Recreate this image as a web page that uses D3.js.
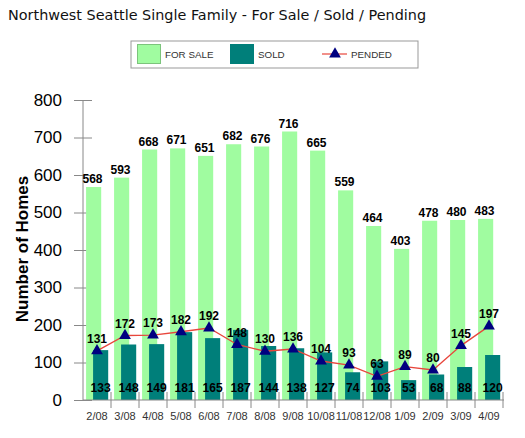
<!DOCTYPE html>
<html>
<head>
<meta charset="utf-8">
<script src="https://cdn.jsdelivr.net/npm/d3@7"></script>
<style>
  body { margin: 0; background: #fff; }
  svg { display: block; }
</style>
</head>
<body>
<svg id="chart" width="525" height="438"></svg>
<script>
// data
const months = ["2/08", "3/08", "4/08", "5/08", "6/08", "7/08", "8/08", "9/08",
  "10/08", "11/08", "12/08", "1/09", "2/09", "3/09", "4/09"];
const forSale = [568, 593, 668, 671, 651, 682, 676, 716, 665, 559, 464, 403, 478, 480, 483];
const sold = [133, 148, 149, 181, 165, 187, 144, 138, 127, 74, 103, 53, 68, 88, 120];
const pended = [131, 172, 173, 182, 192, 148, 130, 136, 104, 93, 63, 89, 80, 145, 197];
const yTicks = [0, 100, 200, 300, 400, 500, 600, 700, 800];

const rows = months.map((m, i) => ({ m, forSale: forSale[i], sold: sold[i], pended: pended[i] }));

const svg = d3.select("#chart");
const plotLeft = 83, plotRight = 503, plotTop = 100, plotBottom = 400;

const x = d3.scaleBand().domain(months).range([plotLeft, plotRight]).padding(0);
const y = d3.scaleLinear().domain([0, 800]).range([plotBottom, plotTop]);
const bw = x.bandwidth();

const green = "#a0fca0", teal = "#007f7a", navy = "#000080", red = "#e8463c";

// title
svg.append("text")
  .attr("x", 8).attr("y", 20)
  .style("font-family", "DejaVu Sans")
  .style("font-size", "14.4px")
  .attr("fill", "#111")
  .text("Northwest Seattle Single Family - For Sale / Sold / Pending");

// legend
const lg = svg.append("g");
lg.append("rect").attr("x", 131).attr("y", 41).attr("width", 287).attr("height", 27)
  .attr("fill", "#fff").attr("stroke", "#999");
lg.append("rect").attr("x", 137.5).attr("y", 44.5).attr("width", 23).attr("height", 19)
  .attr("fill", green).attr("stroke", "#7cc47c");
lg.append("rect").attr("x", 230).attr("y", 44).attr("width", 24).attr("height", 20)
  .attr("fill", teal);
lg.append("line").attr("x1", 322).attr("x2", 347).attr("y1", 54).attr("y2", 54)
  .attr("stroke", red).attr("stroke-width", 1.2);
lg.append("path").attr("d", d3.symbol(d3.symbolTriangle, 60)())
  .attr("transform", "translate(335,54)").attr("fill", navy);
[["FOR SALE", 165], ["SOLD", 258], ["PENDED", 351]].forEach(([t, lx]) => {
  lg.append("text").attr("x", lx).attr("y", 57.5)
    .style("font-family", "Liberation Sans, Arial")
    .style("font-size", "9.8px")
    .attr("fill", "#333")
    .text(t);
});

// y axis ticks (drawn under the bars)
const yAxis = svg.append("g").attr("transform", `translate(${plotLeft},0)`)
  .call(d3.axisLeft(y).tickValues(yTicks).tickSize(9).tickPadding(12));
yAxis.select(".domain").remove();
yAxis.selectAll(".tick line").attr("x1", 9).attr("stroke", "#888");
yAxis.selectAll(".tick text")
  .style("font-family", "Liberation Sans, Arial")
  .style("font-size", "17px")
  .attr("fill", "#000");

// for sale bars
svg.selectAll(".forsale")
  .data(rows).enter().append("rect")
  .attr("class", "forsale")
  .attr("x", d => x(d.m) + bw * 0.11)
  .attr("width", bw * 0.54)
  .attr("y", d => y(d.forSale))
  .attr("height", d => y(0) - y(d.forSale))
  .attr("fill", green);

// sold bars
svg.selectAll(".sold")
  .data(rows).enter().append("rect")
  .attr("class", "sold")
  .attr("x", d => x(d.m) + bw * 0.36)
  .attr("width", bw * 0.54)
  .attr("y", d => y(d.sold))
  .attr("height", d => y(0) - y(d.sold))
  .attr("fill", teal);

// axis lines
svg.append("line").attr("x1", plotLeft).attr("x2", plotLeft).attr("y1", plotTop).attr("y2", plotBottom)
  .attr("stroke", "#888");
svg.append("line").attr("x1", plotLeft).attr("x2", plotRight + 1).attr("y1", plotBottom).attr("y2", plotBottom)
  .attr("stroke", "#888");

// x axis: ticks at category boundaries, crossing the axis
svg.selectAll(".xtick")
  .data(months)
  .enter().append("line")
  .attr("x1", d => x(d) + bw)
  .attr("x2", d => x(d) + bw)
  .attr("y1", plotBottom - 8).attr("y2", plotBottom + 8)
  .attr("stroke", "#888");

svg.selectAll(".xlabel")
  .data(months).enter().append("text")
  .attr("x", d => x(d) + bw / 2)
  .attr("y", 420)
  .attr("text-anchor", "middle")
  .style("font-family", "Liberation Sans, Arial")
  .style("font-size", "11px")
  .attr("fill", "#333")
  .text(d => d);

// y axis title
svg.append("text")
  .attr("transform", "translate(28,249) rotate(-90)")
  .attr("text-anchor", "middle")
  .style("font-family", "Liberation Sans, Arial")
  .style("font-size", "17px")
  .style("font-weight", "bold")
  .attr("fill", "#000")
  .text("Number of Homes");

// pended line + triangles
const line = d3.line().x(d => x(d.m) + bw / 2).y(d => y(d.pended));
svg.append("path").datum(rows).attr("d", line)
  .attr("fill", "none").attr("stroke", red).attr("stroke-width", 1.3);
svg.selectAll(".tri")
  .data(rows).enter().append("path")
  .attr("d", d3.symbol(d3.symbolTriangle, 60)())
  .attr("transform", d => `translate(${x(d.m) + bw / 2},${y(d.pended)})`)
  .attr("fill", navy);

const labelStyle = sel => sel
  .attr("text-anchor", "middle")
  .style("font-family", "Liberation Sans, Arial")
  .style("font-size", "12px")
  .style("font-weight", "bold")
  .attr("fill", "#000");

// value labels
svg.selectAll(".fsl").data(rows).enter().append("text")
  .attr("x", d => x(d.m) + bw * 0.34)
  .attr("y", d => y(d.forSale) - 4)
  .call(labelStyle)
  .text(d => d.forSale);

svg.selectAll(".sdl").data(rows).enter().append("text")
  .attr("x", d => x(d.m) + bw * 0.63)
  .attr("y", 392)
  .call(labelStyle)
  .text(d => d.sold);

svg.selectAll(".pdl").data(rows).enter().append("text")
  .attr("x", d => x(d.m) + bw / 2)
  .attr("y", d => y(d.pended) - 8)
  .call(labelStyle)
  .text(d => d.pended);
</script>
</body>
</html>
